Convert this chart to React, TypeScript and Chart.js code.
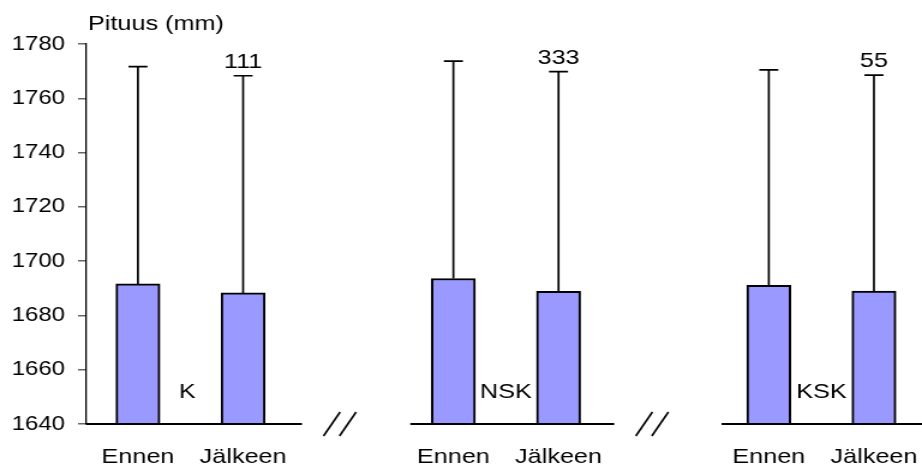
import { useEffect, useRef } from "react";
import { Chart, registerables } from "chart.js";

Chart.register(...registerables);

// ---- data ----
const categories = ["Ennen", "Jälkeen", "Ennen", "Jälkeen", "Ennen", "Jälkeen"];
const positions = [0, 1, 3, 4, 6, 7];
const means = [1691.6, 1688.3, 1693.6, 1688.9, 1691.1, 1689.0];
const upperErr = [1771.7, 1768.3, 1773.7, 1769.8, 1770.5, 1768.5];
const groupNames = ["K", "NSK", "KSK"];
const groupLabelPos = [0.47, 3.5, 6.5];
const countLabels = ["111", "333", "55"];
const countIdx = [1, 3, 5];
const yMin = 1640;
const yMax = 1780;
const yStep = 20;
const xMin = -0.494;
const xMax = 7.457;
const axisSegments = [
  [-0.494, 1.56],
  [2.59, 4.53],
  [5.55, 7.457],
];
const axisBreaks = [1.92, 4.89];
const yTitle = "Pituus (mm)";

// ---- layout ----
const W = 922;
const H = 470;
const CW = Math.round(W / 1.2); // internal canvas width (stretched horizontally)
const K = W / CW;
const px = (v: number) => v / K;
const FAMILY = '"Liberation Sans", Arial, sans-serif';

const decor = {
  id: "decor",
  afterDatasetsDraw(chart: any) {
    const { ctx, chartArea } = chart;
    const xs = chart.scales.x;
    const ys = chart.scales.y;
    const base = ys.getPixelForValue(yMin);
    ctx.save();
    ctx.strokeStyle = "#000";
    ctx.lineCap = "butt";
    // error bars
    ctx.lineWidth = 1.7;
    positions.forEach((p, i) => {
      const x = xs.getPixelForValue(p);
      const y0 = ys.getPixelForValue(means[i]);
      const y1 = ys.getPixelForValue(upperErr[i]);
      ctx.beginPath();
      ctx.moveTo(x, y0);
      ctx.lineTo(x, y1);
      ctx.moveTo(x - px(9.5), y1);
      ctx.lineTo(x + px(9.5), y1);
      ctx.stroke();
    });
    // broken x axis
    ctx.lineWidth = 2;
    axisSegments.forEach(([a, b]) => {
      ctx.beginPath();
      ctx.moveTo(xs.getPixelForValue(a), base);
      ctx.lineTo(xs.getPixelForValue(b), base);
      ctx.stroke();
    });
    ctx.lineWidth = 1.6;
    axisBreaks.forEach((b) => {
      const cx = xs.getPixelForValue(b);
      [-8, 8].forEach((off) => {
        const sx = cx + px(off);
        ctx.beginPath();
        ctx.moveTo(sx - px(8.3), base + 12);
        ctx.lineTo(sx + px(8.3), base - 12);
        ctx.stroke();
      });
    });
    // texts
    ctx.fillStyle = "#000";
    ctx.font = `21px ${FAMILY}`;
    ctx.textAlign = "center";
    ctx.textBaseline = "alphabetic";
    countLabels.forEach((t, j) => {
      const i = countIdx[j];
      ctx.fillText(t, xs.getPixelForValue(positions[i]), ys.getPixelForValue(upperErr[i]) - 8);
    });
    groupNames.forEach((t, j) => {
      ctx.fillText(t, xs.getPixelForValue(groupLabelPos[j]), base - 26);
    });
    ctx.textAlign = "left";
    ctx.fillText(yTitle, chartArea.left + px(2), 30);
    ctx.restore();
  },
};

export default function App() {
  const ref = useRef<HTMLCanvasElement>(null);
  useEffect(() => {
    const chart = new Chart(ref.current as HTMLCanvasElement, {
      type: "bar",
      data: {
        datasets: [
          {
            data: positions.map((p, i) => ({ x: p, y: [yMin, means[i]] })) as any,
            backgroundColor: "#9999FF",
            borderColor: "#000",
            borderWidth: 2,
            borderSkipped: "start",
            barThickness: px(44),
          },
        ],
      },
      options: {
        responsive: false,
        animation: false,
        devicePixelRatio: 1,
        layout: { padding: { top: 44, left: 0, right: 0, bottom: 0 } },
        plugins: {
          legend: { display: false },
          tooltip: { enabled: false },
          title: { display: false },
        },
        scales: {
          x: {
            type: "linear",
            min: xMin,
            max: xMax,
            offset: false,
            grid: { display: false },
            border: { display: false },
            afterBuildTicks: (s: any) => {
              s.ticks = positions.map((v) => ({ value: v }));
            },
            afterFit: (s: any) => {
              s.height = H - 424;
              s.paddingLeft = 0;
              s.paddingRight = 0;
            },
            ticks: {
              autoSkip: false,
              maxRotation: 0,
              minRotation: 0,
              padding: 13,
              color: "#000",
              font: { size: 21, family: FAMILY },
              callback: (_v: any, i: number) => categories[i],
            },
          },
          y: {
            type: "linear",
            min: yMin,
            max: yMax,
            beginAtZero: false,
            ticks: {
              stepSize: yStep,
              padding: px(21) - px(8),
              color: "#000",
              font: { size: 20, family: FAMILY },
              callback: (v: any) => String(v),
            },
            grid: {
              drawOnChartArea: false,
              tickLength: px(8),
              color: "#666",
              lineWidth: 1.5,
            },
            border: { color: "#000", width: 1.3 },
            afterFit: (s: any) => {
              s.width = px(86);
              s.paddingTop = 0;
              s.paddingBottom = 0;
            },
          },
        },
      } as any,
      plugins: [decor],
    });
    return () => chart.destroy();
  }, []);
  return (
    <div style={{ position: "absolute", left: 0, top: 0, width: W, height: H, background: "#fff" }}>
      <canvas
        ref={ref}
        width={CW}
        height={H}
        style={{ width: W + "px", height: H + "px", display: "block" }}
      />
    </div>
  );
}
